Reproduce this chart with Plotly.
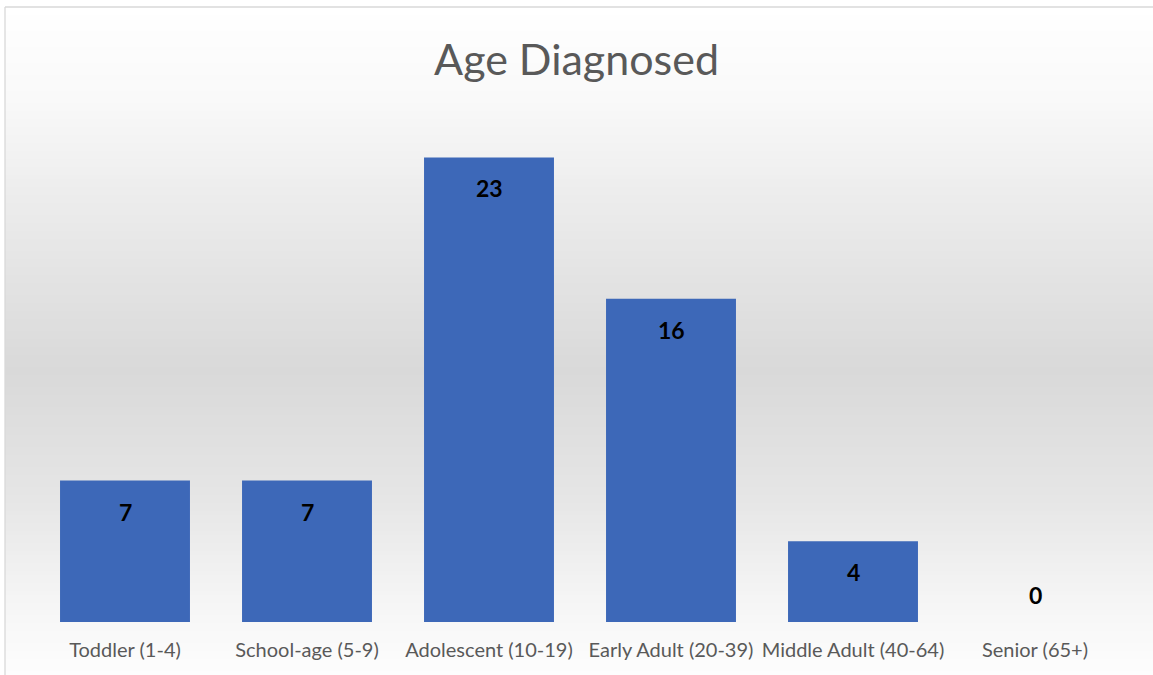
import plotly.graph_objects as go

categories = ["Toddler (1-4)", "School-age (5-9)", "Adolescent (10-19)",
              "Early Adult (20-39)", "Middle Adult (40-64)", "Senior (65+)"]
counts = [7, 7, 23, 16, 4, 0]

W, H = 1153, 675
L, R, T, B = 34, 27, 117, 53
pw, ph = W - L - R, H - T - B
FONT = "Lato, Open Sans, sans-serif"

fig = go.Figure()
fig.add_trace(go.Bar(
    x=categories, y=counts,
    marker=dict(color="#3D68B8", line=dict(width=0)),
    hoverinfo="x+y",
))

# data labels
for c, v in zip(categories, counts):
    fig.add_annotation(x=c, y=v, text=f"<b>{v}</b>", showarrow=False,
                       yshift=-31 if v > 0 else 27,
                       font=dict(family=FONT, size=23, color="#000000"))

# background gradient (styling)
stops = [(7, (255, 255, 255)), (100, (249, 249, 249)), (200, (236, 236, 236)),
         (370, (217, 217, 217)), (500, (230, 230, 230)), (600, (245, 245, 245)),
         (675, (253, 253, 253))]

def col(py):
    for (a, ca), (b, cb) in zip(stops[:-1], stops[1:]):
        if a <= py <= b:
            t = (py - a) / (b - a)
            return "rgb(%d,%d,%d)" % tuple(round(ca[i] + (cb[i] - ca[i]) * t) for i in range(3))
    return "rgb(255,255,255)"

def py2p(py):
    return (H - B - py) / ph

def px2p(px):
    return (px - L) / pw

step = 4
for py in range(7, H, step):
    fig.add_shape(type="rect", xref="paper", yref="paper",
                  x0=px2p(5), x1=px2p(W + 2), y0=py2p(py + step + 0.5), y1=py2p(py),
                  fillcolor=col(py + step / 2), line=dict(width=0), layer="below")

# chart border (left and top)
fig.add_shape(type="line", xref="paper", yref="paper", x0=px2p(5), x1=px2p(5),
              y0=py2p(7), y1=py2p(H + 5), line=dict(color="#D9D9D9", width=1.3))
fig.add_shape(type="line", xref="paper", yref="paper", x0=px2p(5), x1=px2p(W + 5),
              y0=py2p(7), y1=py2p(7), line=dict(color="#D9D9D9", width=1.3))

fig.update_layout(
    width=W, height=H,
    margin=dict(l=L, r=R, t=T, b=B),
    paper_bgcolor="white",
    plot_bgcolor="rgba(0,0,0,0)",
    bargap=0.286,
    showlegend=False,
    title=dict(text="Age Diagnosed", x=0.5, xanchor="center", y=1 - 60 / H, yanchor="middle",
               font=dict(family=FONT, size=43, color="#595959")),
    xaxis=dict(showgrid=False, showline=False, zeroline=False, ticks="",
               tickfont=dict(family=FONT, size=20, color="#595959"),
               ticklabelstandoff=14, fixedrange=True),
    yaxis=dict(range=[0, 25], showgrid=False, showline=False, zeroline=False,
               showticklabels=False, fixedrange=True),
)

fig.write_html("out.html")
